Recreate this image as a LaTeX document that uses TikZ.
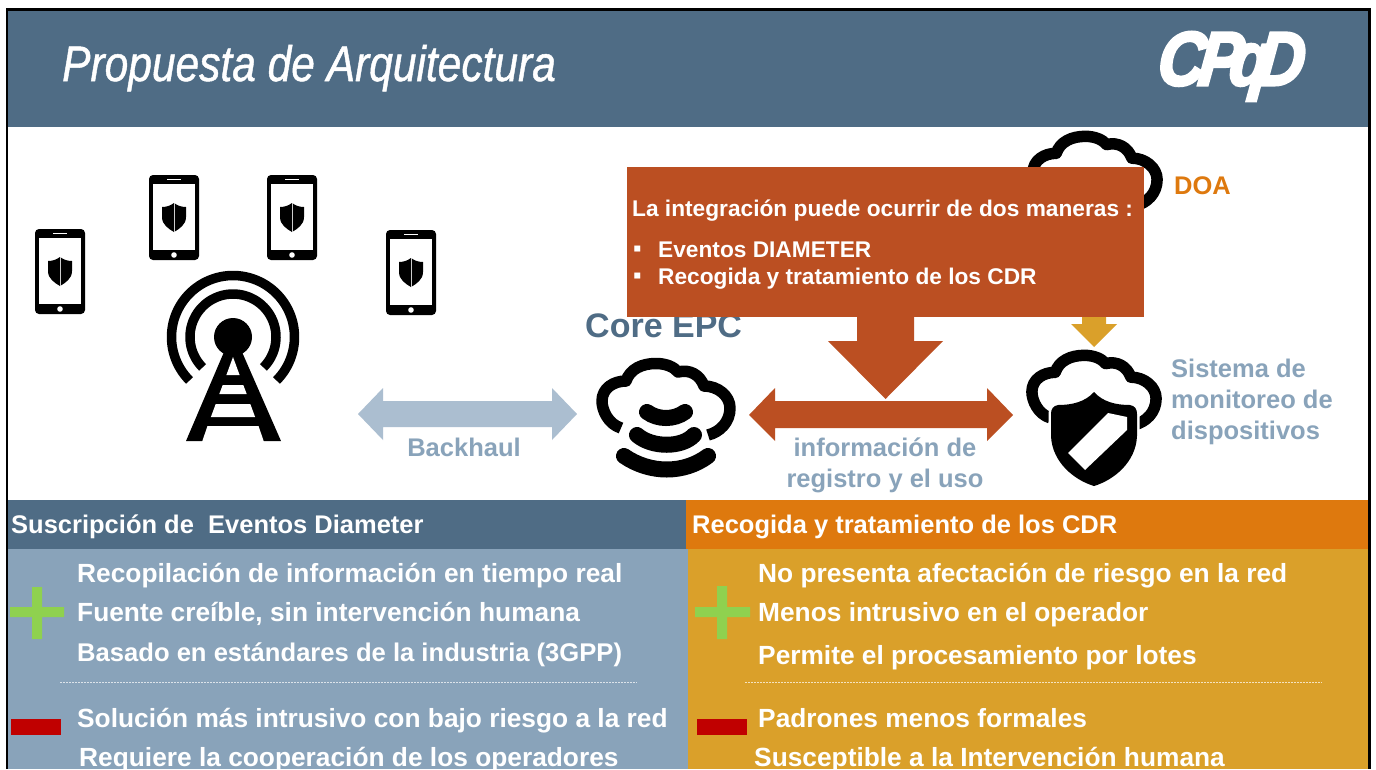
\documentclass[tikz,border=0pt]{standalone}
\usepackage{fontspec}
\setmainfont{Liberation Sans}
\newfontfamily\logofont[UprightFont={* Bold Italic},FakeBold=4]{Liberation Sans}
\newfontfamily\titlefont[UprightFont={* Italic},FakeBold=1]{Liberation Sans}
\definecolor{hdrblue}{HTML}{4F6C85}
\definecolor{panelblue}{HTML}{89A3BA}
\definecolor{lightblue}{HTML}{ABBED0}
\definecolor{rust}{HTML}{BB4F22}
\definecolor{hdrorange}{HTML}{DE790E}
\definecolor{panelgold}{HTML}{DAA02A}
\definecolor{plusgreen}{HTML}{8FD14F}
\definecolor{minusred}{HTML}{C00000}
\tikzset{
  x=1pt,y=-1pt,
  txt/.style={anchor=base west,inner sep=0pt,font=\fontsize{26.3}{30}\selectfont\bfseries,text=white},
  hd/.style={txt,font=\fontsize{25.5}{30}\selectfont\bfseries},
  callout/.style={txt,font=\fontsize{22.7}{26}\selectfont\bfseries},
  lbl/.style={inner sep=0pt,anchor=base,font=\fontsize{25.5}{30}\selectfont\bfseries,text=panelblue},
  cloudline/.style={draw=black,line width=11.5pt,line join=round,line cap=butt},
  band/.style={draw=black,line width=16pt,line cap=round},
  tower/.style={draw=black,line width=10pt,line cap=butt},
  phonepic/.pic={
    \fill[black,rounded corners=4pt] (0,0) rectangle (50,85);
    \fill[white] (4,9) rectangle (46,75);
    \draw[white,line width=1pt] (18,4.5) -- (32,4.5);
    \fill[white] (25,80) circle (2.8);
    \fill[black] (25,28) .. controls (21,31) and (17,32) .. (13,32) -- (13,42)
      .. controls (13,50) and (20,54) .. (25,57) .. controls (30,54) and (37,50) .. (37,42)
      -- (37,32) .. controls (33,32) and (29,31) .. (25,28) -- cycle;
    \draw[gray!40,line width=.6pt] (25,28) -- (25,57);
  },
  cloudpic/.pic={
    \draw[cloudline] (-45,70) .. controls (-58,66) and (-64,52) .. (-64,43)
      .. controls (-64,30) and (-52,23) .. (-40,23)
      .. controls (-36,11) and (-24,5.5) .. (-10,5.5)
      .. controls (0,5.5) and (8,9) .. (12,14)
      .. controls (24,11) and (34,17) .. (38,28)
      .. controls (52,28) and (64,38) .. (64,50)
      .. controls (64,64) and (54,74) .. (42,77);
  },
}
\begin{document}
\begin{tikzpicture}
\useasboundingbox (0,0) rectangle (1376,769);
\clip (0,0) rectangle (1376,769);
\fill[white] (0,0) rectangle (1376,769);
% header
\fill[hdrblue] (8,10) rectangle (1369,127);
\node[inner sep=0pt,anchor=base west,text=white,font=\titlefont\fontsize{50}{54}\selectfont,xscale=.85] (title) at (62,81) {Propuesta de Arquitectura};
\node[inner sep=0pt,anchor=base west,text=white,font=\logofont\fontsize{66}{70}\selectfont,yscale=1.15,xslant=.12] (logo) at (1156,85) {C\kern-7pt P\kern-13pt q\kern-13pt D};
% panels
\fill[hdrblue] (8,500) rectangle (686,549);
\fill[hdrorange] (686,500) rectangle (1369,549);
\fill[panelblue] (8,549) rectangle (688,769);
\fill[panelgold] (688,549) rectangle (1369,769);
\draw[white!70!panelblue,line width=.6pt,dash pattern=on 2pt off 1pt] (60,682) -- (637,682);
\draw[white!70!panelgold,line width=.6pt,dash pattern=on 2pt off 1pt] (745,682) -- (1322,682);
% frame
\draw[black,line width=2.5pt] (7,769) -- (7,9.5) -- (1369.5,9.5) -- (1369.5,769);
% panel text
\node[hd] (h1) at (11,533) {Suscripción de\ \ Eventos Diameter};
\node[hd] (h2) at (692,533) {Recogida y tratamiento de los CDR};
\node[txt] (l1) at (77,582) {Recopilación de información en tiempo real};
\node[txt] (l2) at (77,621) {Fuente creíble, sin intervención humana};
\node[txt,font=\fontsize{25.6}{30}\selectfont\bfseries] (l3) at (77,661) {Basado en estándares de la industria (3GPP)};
\node[txt] (l4) at (77,727) {Solución más intrusivo con bajo riesgo a la red};
\node[txt] (l5) at (79,766) {Requiere la cooperación de los operadores};
\node[txt] (r1) at (758,582) {No presenta afectación de riesgo en la red};
\node[txt] (r2) at (758,621) {Menos intrusivo en el operador};
\node[txt] (r3) at (758,664) {Permite el procesamiento por lotes};
\node[txt] (r4) at (758,727) {Padrones menos formales};
\node[txt] (r5) at (754,766) {Susceptible a la Intervención humana};
% plus / minus
\fill[plusgreen] (10,607) rectangle (64,617) (32,587) rectangle (42,639);
\fill[plusgreen] (695,607) rectangle (750,617) (717,586) rectangle (727,639);
\fill[minusred] (11,719) rectangle (61,735);
\fill[minusred] (697,719) rectangle (747,735);
% phones
\pic at (35,229) {phonepic};
\pic at (149,175) {phonepic};
\pic at (267,175) {phonepic};
\pic at (386,230) {phonepic};
% tower
\draw[tower,line width=9.5pt] plot[domain=135:405,samples=80] ({233+61.5*cos(\x)},{337+61.5*sin(\x)});
\draw[tower,line width=9.5pt] plot[domain=135:405,samples=80] ({233+43*cos(\x)},{337+43*sin(\x)});
\fill[black] (233,337) circle (19);
\fill[black] (224,352) -- (242,352) -- (281,441) -- (186,441) -- cycle;
\fill[white] (233,357) -- (239.6,375) -- (226.4,375) -- cycle;
\fill[white] (222.7,385) -- (243.3,385) -- (246.7,394) -- (219.3,394) -- cycle;
\fill[white] (215.7,404) -- (250.3,404) -- (255.1,417) -- (210.9,417) -- cycle;
\fill[white] (207.5,426) -- (258.5,426) -- (264,442) -- (202,442) -- cycle;
% backhaul
\fill[lightblue] (358,414) -- (383,388) -- (383,401) -- (552,401) -- (552,388) -- (577,414) -- (552,440) -- (552,427) -- (383,427) -- (383,440) -- cycle;
\node[lbl] (backhaul) at (464,456) {Backhaul};
% core
\pic at (666,358) {cloudpic};
\draw[band] (647,412) .. controls (658,420) and (674,420) .. (685,412);
\draw[band] (637,435) .. controls (652,448) and (682,448) .. (694,435);
\draw[band] (624,456) .. controls (650,474) and (684,474) .. (708,456);
\node[inner sep=0pt,anchor=base west,text=hdrblue,font=\fontsize{34}{38}\selectfont\bfseries] (core) at (585,337) {Core EPC};
% DOA cloud
\pic[scale=.97] at (1095,131) {cloudpic};
\node[inner sep=0pt,anchor=base west,text=hdrorange,font=\fontsize{25.5}{30}\selectfont\bfseries] (doa) at (1174,194) {DOA};
% yellow arrow
\fill[panelgold] (1082,300) -- (1106,300) -- (1106,324) -- (1117,324) -- (1094,347) -- (1071,324) -- (1082,324) -- cycle;
% callout
\fill[rust] (627,167) rectangle (1144,317);
\node[callout] (c1) at (632,216) {La integración puede ocurrir de dos maneras :};
\node[callout,font=\fontsize{24}{26}\selectfont\bfseries] (b1) at (633,256) {▪};
\node[callout,font=\fontsize{24}{26}\selectfont\bfseries] (b2) at (633,283) {▪};
\node[callout] (c2) at (658,257) {Eventos DIAMETER};
\node[callout] (c3) at (658,284) {Recogida y tratamiento de los CDR};
% down arrow
\fill[rust] (857,317) -- (914,317) -- (914,341) -- (943,341) -- (885.5,399) -- (828,341) -- (857,341) -- cycle;
% double arrow
\fill[rust] (749,415) -- (775,388) -- (775,401) -- (987,401) -- (987,388) -- (1013,415) -- (987,441) -- (987,428) -- (775,428) -- (775,441) -- cycle;
\node[lbl] (info1) at (885,456) {información de};
\node[lbl] (info2) at (885,487) {registro y el uso};
% monitor
\pic[scale=.97] at (1094,350) {cloudpic};
\fill[black,preaction={draw=white,line width=5pt}]
  (1094,392) .. controls (1085,402) and (1072,405) .. (1058,405)
  .. controls (1053,406) and (1051,409) .. (1051,414) -- (1051,436)
  .. controls (1052,462) and (1074,480) .. (1094,486)
  .. controls (1114,480) and (1136,462) .. (1137,436) -- (1137,414)
  .. controls (1137,409) and (1135,406) .. (1130,405)
  .. controls (1116,405) and (1103,402) .. (1094,392) -- cycle;
\fill[white] (1108,413) -- (1127,417) -- (1127,430) -- (1085,470) -- (1068,453) -- cycle;
\node[lbl,anchor=base west] (s1) at (1171,377) {Sistema de};
\node[lbl,anchor=base west] (s2) at (1171,408) {monitoreo de};
\node[lbl,anchor=base west] (s3) at (1171,439) {dispositivos};
\end{tikzpicture}
\end{document}
